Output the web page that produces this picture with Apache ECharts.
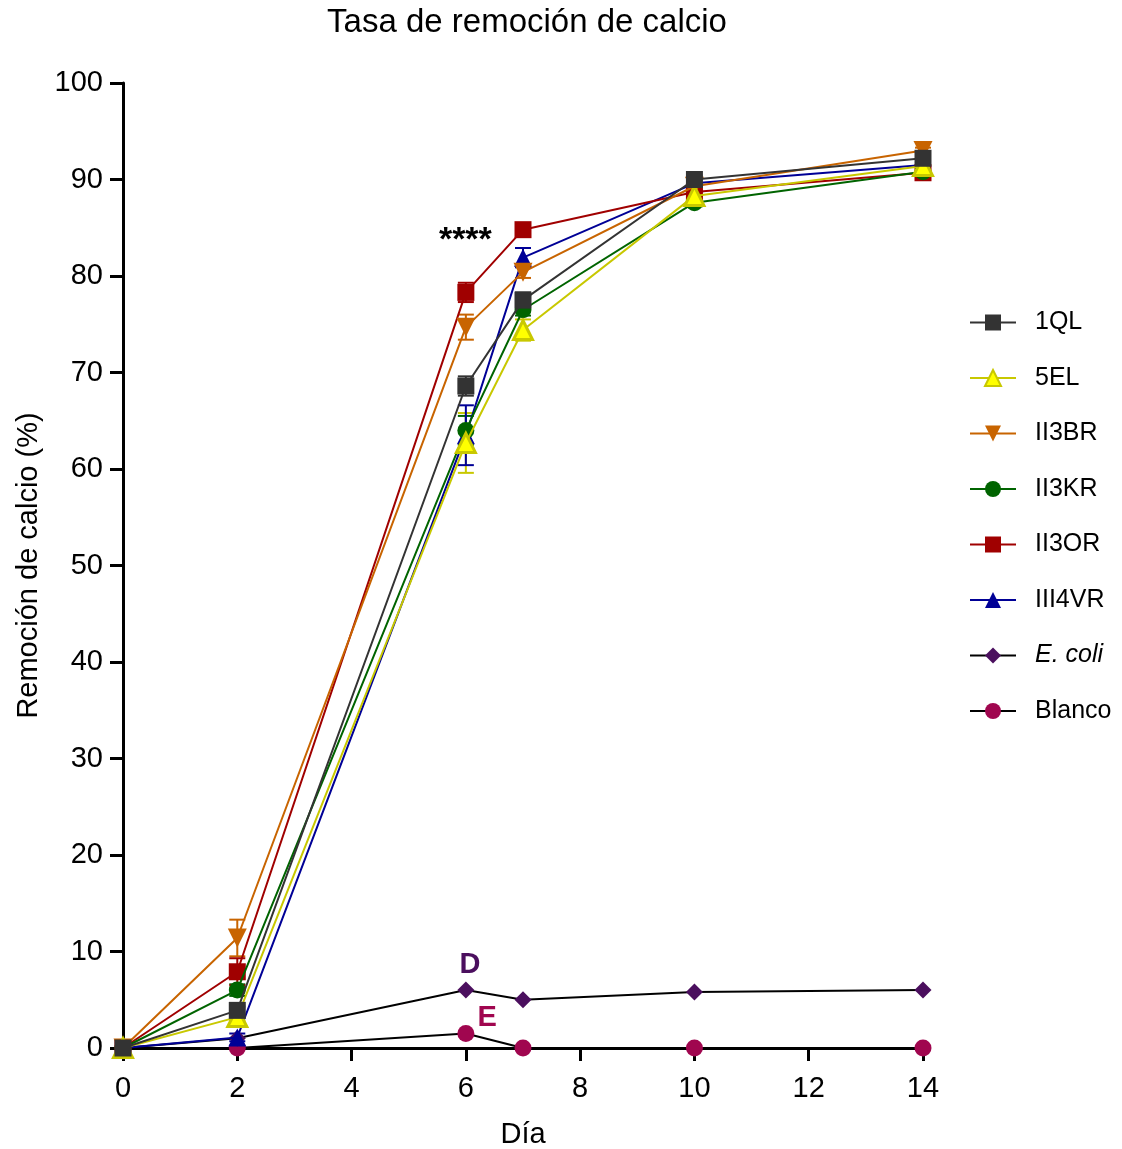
<!DOCTYPE html>
<html><head><meta charset="utf-8">
<script src="https://cdn.jsdelivr.net/npm/echarts@6/dist/echarts.min.js"></script>
<style>html,body{margin:0;padding:0;background:#fff;overflow:hidden}#c{width:1122px;height:1149px}</style>
</head><body><div id="c"></div>
<script>
const days = [0, 2, 6, 7, 10, 14];
const xTicks = [0, 2, 4, 6, 8, 10, 12, 14];
const yTicks = [0, 10, 20, 30, 40, 50, 60, 70, 80, 90, 100];
const names = ['1QL', '5EL', 'II3BR', 'II3KR', 'II3OR', 'III4VR', 'E. coli', 'Blanco'];

const v1QL    = [0, 3.9, 68.6, 77.5, 90.0, 92.2];
const v5EL    = [0, 3.2, 62.7, 74.4, 88.3, 91.4];
const vII3BR  = [0, 11.4, 74.7, 80.4, 89.3, 93.0];
const vII3KR  = [0, 6.0, 64.0, 76.5, 87.6, 90.8];
const vII3OR  = [0, 7.9, 78.3, 84.8, 88.7, 90.7];
const vIII4VR = [0, 1.1, 63.5, 81.9, 89.6, 91.5];
const vEcoli  = [0, 1.0, 6.0, 5.0, 5.8, 6.0];
const vBlanco = [0, 0, 1.5, 0, 0, 0];

const e1QL    = [0, 0.4, 1.0, 0.8, 0.4, 0.3];
const e5EL    = [0, 0.4, 3.1, 1.1, 0.4, 0.3];
const eII3BR  = [0, 1.9, 1.3, 0.6, 0.4, 0.3];
const eII3KR  = [0, 0.6, 1.5, 0.6, 0.4, 0.3];
const eII3OR  = [0, 1.4, 1.0, 0.5, 0.4, 0.3];
const eIII4VR = [0, 0.4, 3.1, 1.0, 0.4, 0.3];

const annStars = {x: 6, y: 83.6, text: '****'};
const annD = {x: 6.08, y: 8.6, text: 'D'};
const annE = {x: 6.38, y: 3.1, text: 'E'};

const FONT = 'Liberation Sans, Arial, sans-serif';

const specs = [
  {name: '1QL', v: v1QL, e: e1QL, line: '#333333', fill: '#333333', border: '#333333', sym: 'rect', size: 17},
  {name: '5EL', v: v5EL, e: e5EL, line: '#c8c800', fill: '#ffff00', border: '#c8c800', sym: 'triangle', size: 19, bw: 3},
  {name: 'II3BR', v: vII3BR, e: eII3BR, line: '#c86400', fill: '#c86400', border: '#c86400', sym: 'path://M0,0 L10,0 L5,10 Z', size: 19},
  {name: 'II3KR', v: vII3KR, e: eII3KR, line: '#006400', fill: '#006400', border: '#006400', sym: 'circle', size: 17},
  {name: 'II3OR', v: vII3OR, e: eII3OR, line: '#a00000', fill: '#a00000', border: '#a00000', sym: 'rect', size: 17},
  {name: 'III4VR', v: vIII4VR, e: eIII4VR, line: '#000096', fill: '#000096', border: '#000096', sym: 'triangle', size: 18},
  {name: 'E. coli', v: vEcoli, e: null, line: '#000000', fill: '#4b0f5e', border: '#4b0f5e', sym: 'diamond', size: 17},
  {name: 'Blanco', v: vBlanco, e: null, line: '#000000', fill: '#a0064f', border: '#a0064f', sym: 'circle', size: 17}
];

const series = [];
specs.forEach(s => {
  if (s.e) {
    const errData = days.map((d, i) => [d, s.v[i] - s.e[i], s.v[i] + s.e[i]]);
    series.push({
      type: 'custom', name: s.name + '_err', silent: true, z: 1,
      data: errData,
      renderItem: function (params, api) {
        const x = api.value(0), lo = api.value(1), hi = api.value(2);
        if (hi - lo <= 0) return null;
        const p1 = api.coord([x, lo]), p2 = api.coord([x, hi]);
        const w = 8;
        const st = {stroke: s.line, lineWidth: 2};
        return {type: 'group', children: [
          {type: 'line', shape: {x1: p1[0], y1: p1[1], x2: p2[0], y2: p2[1]}, style: st},
          {type: 'line', shape: {x1: p1[0] - w, y1: p1[1], x2: p1[0] + w, y2: p1[1]}, style: st},
          {type: 'line', shape: {x1: p2[0] - w, y1: p2[1], x2: p2[0] + w, y2: p2[1]}, style: st}
        ]};
      }
    });
  }
});
specs.forEach((s, k) => {
  series.push({
    type: 'line', name: s.name, z: 20 - k,
    data: days.map((d, i) => [d, s.v[i]]),
    symbol: s.sym, symbolSize: s.size, showAllSymbol: true,
    lineStyle: {color: s.line, width: 2},
    itemStyle: {color: s.fill, borderColor: s.border, borderWidth: s.bw || 0, opacity: 1},
    emphasis: {disabled: true},
    animation: false
  });
});

series.push({
  type: 'scatter', name: 'ann', silent: true, z: 30, symbolSize: 1,
  itemStyle: {opacity: 0},
  data: [
    {value: [annStars.x, annStars.y], label: {formatter: annStars.text, color: '#000000', fontSize: 34}},
    {value: [annD.x, annD.y], label: {formatter: annD.text, color: '#4b0f5e', fontSize: 29}},
    {value: [annE.x, annE.y], label: {formatter: annE.text, color: '#a0064f', fontSize: 29}}
  ],
  label: {show: true, position: [0, 0], align: 'center', verticalAlign: 'middle',
    fontWeight: 'bold', fontFamily: FONT, textBorderWidth: 0, opacity: 1},
  emphasis: {disabled: true}
});

const chart = echarts.init(document.getElementById('c'), null, {renderer: 'canvas'});
chart.setOption({
  animation: false,
  backgroundColor: '#fff',
  title: {
    text: 'Tasa de remoción de calcio', left: 522, top: 1, textAlign: 'center',
    textStyle: {fontFamily: FONT, fontSize: 33, fontWeight: 'normal', color: '#000'}
  },
  grid: {left: 123, right: 199, top: 83, bottom: 101, containLabel: false, outerBoundsMode: 'none'},
  xAxis: {
    type: 'value', min: xTicks[0], max: xTicks[xTicks.length - 1], interval: 2,
    name: 'Día', nameLocation: 'middle', nameGap: 72,
    nameTextStyle: {fontFamily: FONT, fontSize: 29, color: '#000'},
    axisLine: {lineStyle: {color: '#000', width: 3}},
    axisTick: {inside: false, length: 13, lineStyle: {color: '#000', width: 3}},
    axisLabel: {fontFamily: FONT, fontSize: 29, color: '#000', margin: 26},
    splitLine: {show: false}
  },
  yAxis: {
    type: 'value', min: yTicks[0], max: yTicks[yTicks.length - 1], interval: 10,
    name: 'Remoción de calcio (%)', nameLocation: 'middle', nameGap: 80,
    nameTextStyle: {fontFamily: FONT, fontSize: 29, color: '#000'},
    axisLine: {lineStyle: {color: '#000', width: 3}},
    axisTick: {inside: false, length: 13, lineStyle: {color: '#000', width: 3}},
    axisLabel: {fontFamily: FONT, fontSize: 29, color: '#000', margin: 20},
    splitLine: {show: false}
  },
  legend: {
    data: names, orient: 'vertical', left: 964, top: 305,
    itemWidth: 46, itemHeight: 20, itemGap: 30.5,
    textStyle: {fontFamily: FONT, fontSize: 25, color: '#000', padding: [0, 0, 0, 14],
      rich: {it: {fontStyle: 'italic', fontFamily: FONT, fontSize: 25, color: '#000'}}},
    formatter: function (n) { return n === 'E. coli' ? '{it|E. coli}' : n; },
    selectedMode: false
  },
  series: series
});
</script></body></html>
